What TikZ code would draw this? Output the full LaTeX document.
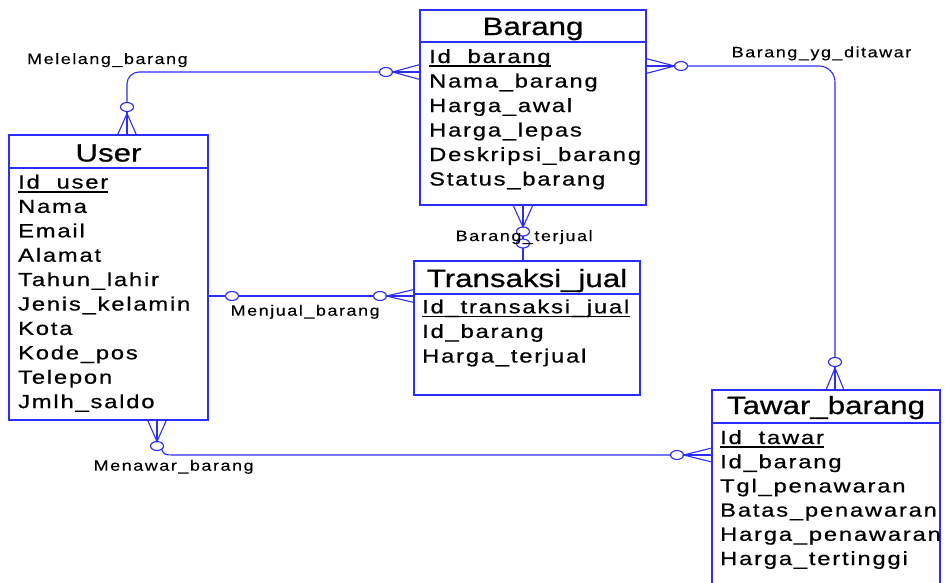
\documentclass[tikz,border=0pt]{standalone}
\usepackage{fontspec}
\setmainfont{Liberation Sans}
\newfontfamily\erattr[LetterSpace=7.6,FakeBold=0.6]{Liberation Sans}
\newfontfamily\ertitle[FakeBold=0.6]{Liberation Sans}
\newfontfamily\errel[LetterSpace=8.5,FakeBold=0.2]{Liberation Sans}
\usetikzlibrary{shapes.geometric}
\definecolor{erblue}{RGB}{45,45,250}
% glyphs are set wide, as in the diagram tool's output
\newcommand\wtext[1]{\scalebox{1.25}[1]{#1}}
\newcommand\wlabel[1]{\scalebox{1.2}[1]{#1}}

\begin{document}
\begin{tikzpicture}[x=1pt,y=-1pt,
  entity/.style={draw=erblue, line width=1.3pt, inner sep=0pt, outer sep=0pt},
  divider/.style={draw=erblue, line width=1.3pt},
  conn/.style={draw=erblue, line width=1.1pt},
  opt/.style={draw=erblue, line width=1.1pt, ellipse, minimum width=13pt,
              minimum height=9pt, inner sep=0pt, outer sep=0pt, fill=white},
  etitle/.style={inner sep=0pt, anchor=base, font=\ertitle\fontsize{25}{28}\selectfont},
  attr/.style={inner sep=0pt, anchor=base west, font=\erattr\fontsize{19}{22}\selectfont},
  rel/.style={inner sep=0pt, anchor=base west, font=\errel\fontsize{15}{18}\selectfont},
  pkline/.style={draw=black, line width=1.8pt}]

\useasboundingbox (0,0) rectangle (945,582);
\clip (0,0) rectangle (945,582);

% ---------------- entities ----------------
% User
\node[entity, minimum width=199pt, minimum height=285pt] (user) at (108.5,277.5) {};
\draw[divider] (user.west |- 0,168) -- (user.east |- 0,168);
\node[etitle] (user-t) at (108.5,161.5) {\wtext{User}};
\node[attr] (user-pk) at (18,188.5) {\wtext{Id\_user}};
\draw[pkline] ([yshift=-3.2pt]user-pk.base west) -- ([yshift=-3.2pt]user-pk.base east);
\foreach \t [count=\i] in {Nama,Email,Alamat,Tahun\_lahir,Jenis\_kelamin,Kota,Kode\_pos,Telepon,Jmlh\_saldo}
  \node[attr] (user-a\i) at (18,{188.5+24.4*\i}) {\wtext{\t}};

% Barang
\node[entity, minimum width=226pt, minimum height=195pt] (barang) at (533,107.5) {};
\draw[divider] (barang.west |- 0,42) -- (barang.east |- 0,42);
\node[etitle] (barang-t) at (533,35) {\wtext{Barang}};
\node[attr] (barang-pk) at (429,63) {\wtext{Id\_barang}};
\draw[pkline] ([yshift=-3.2pt]barang-pk.base west) -- ([yshift=-3.2pt]barang-pk.base east);
\foreach \t [count=\i] in {Nama\_barang,Harga\_awal,Harga\_lepas,Deskripsi\_barang,Status\_barang}
  \node[attr] (barang-a\i) at (429,{63+24.5*\i}) {\wtext{\t}};

% Transaksi_jual
\node[entity, minimum width=226pt, minimum height=134pt] (trans) at (527,328) {};
\draw[divider] (trans.west |- 0,294) -- (trans.east |- 0,294);
\node[etitle] (trans-t) at (527,287) {\wtext{Transaksi\_jual}};
\node[attr] (trans-pk) at (422,313.3) {\wtext{Id\_transaksi\_jual}};
\draw[pkline] ([yshift=-3.2pt]trans-pk.base west) -- ([yshift=-3.2pt]trans-pk.base east);
\foreach \t [count=\i] in {Id\_barang,Harga\_terjual}
  \node[attr] (trans-a\i) at (422,{313.3+24.6*\i}) {\wtext{\t}};

% Tawar_barang
\node[entity, minimum width=228pt, minimum height=260pt] (tawar) at (826,520) {};
\draw[divider] (tawar.west |- 0,423) -- (tawar.east |- 0,423);
\node[etitle] (tawar-t) at (826,414) {\wtext{Tawar\_barang}};
\node[attr] (tawar-pk) at (720,444) {\wtext{Id\_tawar}};
\draw[pkline] ([yshift=-3.2pt]tawar-pk.base west) -- ([yshift=-3.2pt]tawar-pk.base east);
\foreach \t [count=\i] in {Id\_barang,Tgl\_penawaran,Batas\_penawaran,Harga\_penawaran,Harga\_tertinggi}
  \node[attr] (tawar-a\i) at (720,{444+24.2*\i}) {\wtext{\t}};

% ---------------- relationships ----------------
% Melelang_barang: User -- Barang
\node[opt] (m1) at (127,107) {};
\node[opt] (m2) at (386,72) {};
\coordinate (m1c) at (127,113.5);
\draw[conn, rounded corners=12pt] (m1.north) |- (m2.west);
\draw[conn] (m1.south) -- (user.north -| m1c);
\draw[conn] ([xshift=-9.5pt]user.north -| m1c) -- (m1c) -- ([xshift=9.5pt]user.north -| m1c);
\draw[conn] (m2.east) -- (barang.west |- m2);
\draw[conn] ([yshift=7.5pt]barang.west |- m2) -- (m2.east) -- ([yshift=-7.5pt]barang.west |- m2);
\node[rel] (lbl-m) at (27,64) {\wlabel{Melelang\_barang}};

% Barang_yg_ditawar: Barang -- Tawar_barang
\node[opt] (d1) at (681,66) {};
\node[opt] (d2) at (835,362) {};
\coordinate (d2c) at (835,368);
\draw[conn, rounded corners=16pt] (d1.east) -| (d2.north);
\draw[conn] (barang.east |- d1) -- (d1.west);
\draw[conn] ([yshift=7.5pt]barang.east |- d1) -- (d1.west) -- ([yshift=-7.5pt]barang.east |- d1);
\draw[conn] (d2.south) -- (tawar.north -| d2);
\draw[conn] ([xshift=-9pt]tawar.north -| d2c) -- (d2c) -- ([xshift=9pt]tawar.north -| d2c);
\node[rel] (lbl-d) at (731.5,57.3) {\wlabel{Barang\_yg\_ditawar}};

% Barang_terjual: Barang -- Transaksi_jual
\node[opt] (t1) at (523,231.5) {};
\node[opt] (t2) at (523,243.5) {};
\draw[conn] (barang.south -| t1) -- (t1.north);
\draw[conn] ([xshift=-10pt]barang.south -| t1) -- (t1.north) -- ([xshift=10pt]barang.south -| t1);
\draw[conn] (t1.south) -- (t2.north);
\draw[conn] (t2.south) -- (trans.north -| t2);
\node[rel] (lbl-t) at (455.5,241) {\wlabel{Barang\_terjual}};

% Menjual_barang: User -- Transaksi_jual
\node[opt] (j1) at (232,296) {};
\node[opt] (j2) at (380,296) {};
\draw[conn] (user.east |- j1) -- (j1.west);
\draw[conn] (j1.east) -- (j2.west);
\draw[conn] (j2.east) -- (trans.west |- j2);
\draw[conn] ([yshift=6.5pt]trans.west |- j2) -- (j2.east) -- ([yshift=-6.5pt]trans.west |- j2);
\node[rel] (lbl-j) at (230.5,315.7) {\wlabel{Menjual\_barang}};

% Menawar_barang: User -- Tawar_barang
\node[opt] (w1) at (157,446) {};
\node[opt] (w2) at (677,455) {};
\coordinate (w1b) at (178,455);
\draw[conn] (user.south -| w1) -- (w1.north);
\draw[conn] ([xshift=-9.5pt]user.south -| w1) -- (w1.north) -- ([xshift=9.5pt]user.south -| w1);
\draw[conn] (w1.-35) .. controls (164,455) .. (w1b) -- (w2.west);
\draw[conn] (w2.east) -- (tawar.west |- w2);
\draw[conn] ([yshift=7pt]tawar.west |- w2) -- (w2.east) -- ([yshift=-7pt]tawar.west |- w2);
\node[rel] (lbl-w) at (93.5,470.7) {\wlabel{Menawar\_barang}};
\end{tikzpicture}
\end{document}
